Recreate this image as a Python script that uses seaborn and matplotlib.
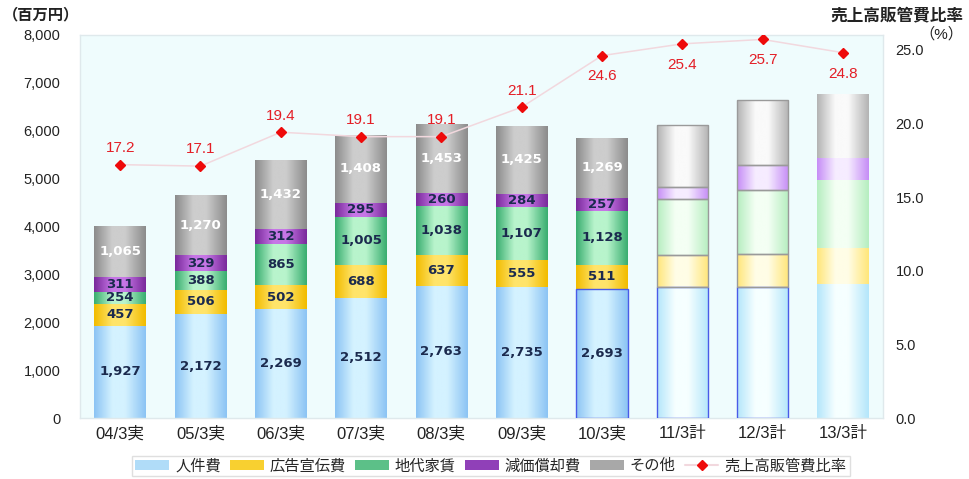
import numpy as np
import pandas as pd
import matplotlib
matplotlib.use("Agg")
import matplotlib.pyplot as plt
from matplotlib.colors import LinearSegmentedColormap
from matplotlib.patches import Patch
from matplotlib.lines import Line2D
import seaborn as sns

# ---- data -------------------------------------------------------------
periods = ["04/3実", "05/3実", "06/3実", "07/3実", "08/3実", "09/3実", "10/3実",
           "11/3計", "12/3計", "13/3計"]
personnel = [1927, 2172, 2269, 2512, 2763, 2735, 2693, 2735, 2740, 2800]
advertising = [457, 506, 502, 688, 637, 555, 511, 665, 680, 750]
rent = [254, 388, 865, 1005, 1038, 1107, 1128, 1170, 1340, 1420]
depreciation = [311, 329, 312, 295, 260, 284, 257, 250, 520, 460]
other = [1065, 1270, 1432, 1408, 1453, 1425, 1269, 1300, 1360, 1330]
sga_ratio = [17.2, 17.1, 19.4, 19.1, 19.1, 21.1, 24.6, 25.4, 25.7, 24.8]
n_actual = 7  # first seven periods are actual results, the rest are plans

series_names = ["人件費", "広告宣伝費", "地代家賃", "減価償却費", "その他"]
ratio_name = "売上高販管費比率"
left_ticks = [0, 1000, 2000, 3000, 4000, 5000, 6000, 7000, 8000]
right_ticks = [0.0, 5.0, 10.0, 15.0, 20.0, 25.0]

# ---- styling -----------------------------------------------------------
sns.set_theme(style="white")
plt.rcParams["font.family"] = ["Liberation Sans", "Noto Sans CJK JP"]

# (edge, center) shades for the cylinder-like gradient of each series
actual_shades = [("#8cc4f4", "#d4f2ff"), ("#f2bc00", "#ffe46a"),
                 ("#3aae70", "#b8f4cc"), ("#7a2a9c", "#c676e6"),
                 ("#8c8c8c", "#cdcdcd")]
plan_shades = [("#b4e6fb", "#f6ffff"), ("#ffe67a", "#fffde6"),
               ("#b6eec0", "#f4fff4"), ("#c68ef6", "#f6ecff"),
               ("#b4b4b4", "#fafafa")]
label_colors = ["#1b2a4e", "#1b2a4e", "#1b2a4e", "#1b2a4e", "white"]
legend_colors = ["#b0dcf8", "#f8d030", "#5cc088", "#9040b8", "#a8a8a8"]

fig = plt.figure(figsize=(9.69, 4.79), dpi=100)
fig.patch.set_facecolor("white")
ax = fig.add_axes([80 / 969, 1 - 418 / 479, 803 / 969, 383 / 479])
ax.set_facecolor("#effcfd")

df = pd.DataFrame({"period": periods})
layers = [personnel, advertising, rent, depreciation, other]
bottom = np.zeros(len(periods))
bar_width = 0.64

for k, (name, vals) in enumerate(zip(series_names, layers)):
    df[name] = vals
    sns.barplot(data=df, x="period", y=name, ax=ax, width=bar_width,
                color=legend_colors[k], bottom=bottom.copy(), linewidth=0,
                zorder=2)
    bottom = bottom + np.array(vals)

# gradient fill clipped to each bar segment
for k, patch in enumerate(ax.patches):
    layer = k // len(periods)
    idx = k % len(periods)
    shades = actual_shades[layer] if idx < n_actual else plan_shades[layer]
    edge, center = shades
    cmap = LinearSegmentedColormap.from_list(
        "cyl", [(0.0, edge), (0.35, center), (0.6, center), (1.0, edge)])
    x0 = patch.get_x()
    w = patch.get_width()
    y0 = patch.get_y()
    h = patch.get_height()
    grad = np.linspace(0, 1, 64).reshape(1, -1)
    im = ax.imshow(grad, cmap=cmap, extent=(x0, x0 + w, y0, y0 + h),
                   aspect="auto", zorder=2.5, interpolation="bilinear")
    im.set_clip_path(patch)
    # outlined segments for the latest actual and the first two plan bars
    if idx in (6, 7, 8):
        ec = "#4a5ae8" if layer == 0 else ("#9a9a9a" if idx > 6 else None)
        if ec is not None:
            ax.add_patch(plt.Rectangle((x0, y0), w, h, fill=False,
                                       edgecolor=ec, linewidth=1.0, zorder=3))
    # value labels on actual bars
    if idx < n_actual:
        val = layers[layer][idx]
        ax.text(x0 + w / 2, y0 + h / 2, f"{val:,}", ha="center",
                va="center", fontsize=9.5, fontweight="bold",
                family="DejaVu Sans", color=label_colors[layer], zorder=4)

ax.set_ylim(0, 8000)
ax.set_xlim(-0.5, len(periods) - 0.5)
ax.set_yticks(left_ticks)
ax.set_yticklabels([f"{t:,}" for t in left_ticks], fontsize=10.5,
                   color="#222222")
ax.set_xticks(range(len(periods)))
ax.set_xticklabels(periods, fontsize=12, color="#222222")
ax.set_xlabel("")
ax.set_ylabel("")
ax.tick_params(axis="y", length=0, pad=14)
ax.tick_params(axis="x", length=0, pad=6)
for s in ax.spines.values():
    s.set_color("#dfe9ec")
    s.set_linewidth(1.0)

# ratio line on the secondary axis
ax2 = ax.twinx()
ratio_df = pd.DataFrame({"x": np.arange(len(periods)), "ratio": sga_ratio})
sns.lineplot(data=ratio_df, x="x", y="ratio", ax=ax2, color="#f2d8de",
             linewidth=1.1, zorder=5)
ax2.plot(ratio_df["x"], ratio_df["ratio"], linestyle="none", marker="D",
         markersize=5.5, color="#ee0a0a", zorder=6)
ax2.set_ylim(0, 26)
ax2.set_xlim(-0.5, len(periods) - 0.5)
ax2.set_yticks(right_ticks)
ax2.set_yticklabels([f"{t:.1f}" for t in right_ticks], fontsize=10.5,
                    color="#222222")
ax2.tick_params(axis="y", length=0, pad=9)
ax2.set_ylabel("")
ax2.set_xlabel("")
for s in ax2.spines.values():
    s.set_visible(False)

for i, r in enumerate(sga_ratio):
    dy = 12 if i < 6 else -15
    ax2.annotate(f"{r:.1f}", (i, r), xytext=(0, dy), textcoords="offset points",
                 ha="center", va="center", fontsize=11, color="#e41e26",
                 zorder=7)

# axis titles
fig.text(3 / 969, 1 - 15 / 479, "（百万円）", fontsize=11, ha="left",
         va="center", color="#222222", fontweight="bold")
fig.text(963 / 969, 1 - 15 / 479, ratio_name, fontsize=12, ha="right",
         va="center", color="#222222", fontweight="bold")
fig.text(963 / 969, 1 - 34 / 479, "（%）", fontsize=11, ha="right",
         va="center", color="#222222")

# legend
handles = [Patch(facecolor=c, edgecolor="none", label=n)
           for c, n in zip(legend_colors, series_names)]
handles.append(Line2D([0], [0], color="#f2d8de", marker="D", markersize=5.5,
                      markerfacecolor="#ee0a0a", markeredgecolor="#ee0a0a",
                      label=ratio_name))
fig.legend(handles=handles, loc="center", ncol=6,
           bbox_to_anchor=(491 / 969, 1 - 466 / 479), fontsize=11,
           frameon=True, fancybox=False, edgecolor="#d8d8d8",
           handlelength=2.2, handleheight=0.6, columnspacing=0.6,
           handletextpad=0.4, borderpad=0.2)

fig.savefig("out.png", dpi=100, facecolor="white")
